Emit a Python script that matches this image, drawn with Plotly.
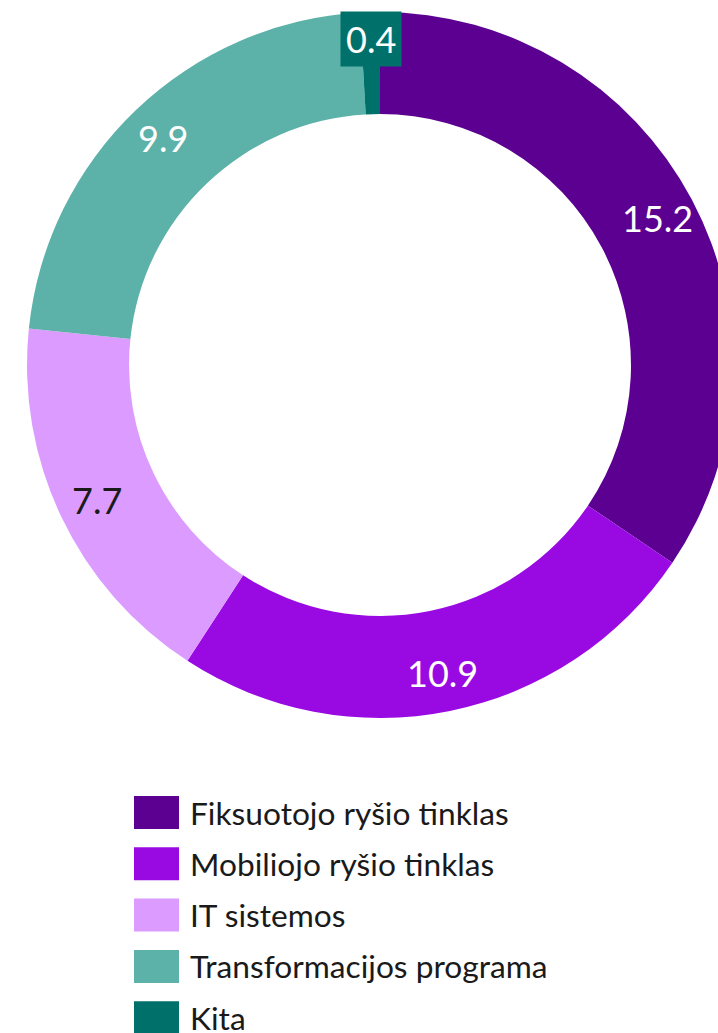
import math
import plotly.graph_objects as go

categories = ["Fiksuotojo ryšio tinklas", "Mobiliojo ryšio tinklas", "IT sistemos",
              "Transformacijos programa", "Kita"]
values = [15.2, 10.9, 7.7, 9.9, 0.4]
colors = ["#5C0091", "#990AE3", "#DC9BFF", "#5CB1A8", "#00716A"]
text_colors = ["#FFFFFF", "#FFFFFF", "#1A1A1A", "#FFFFFF", "#FFFFFF"]

W, H = 760, 1033
CX, CY, R = 380, 365, 353
FONT = "Lato"

fig = go.Figure(go.Pie(
    labels=categories, values=values, sort=False, direction="clockwise", rotation=0,
    hole=0.711, marker=dict(colors=colors, line=dict(width=0)),
    textinfo="none",
    domain=dict(x=[(CX - R) / W, (CX + R) / W], y=[1 - (CY + R) / H, 1 - (CY - R) / H]),
    showlegend=False, hoverinfo="label+value",
))

# value labels at each slice's mid-angle
total = sum(values)
cum = 0.0
for i, v in enumerate(values):
    mid = (cum + v / 2) / total * 2 * math.pi
    cum += v
    small = v / total < 0.02
    rr = 326 if small else 314
    px = CX + rr * math.sin(mid)
    py = CY - rr * math.cos(mid)
    fig.add_annotation(x=px / W, y=1 - py / H, xref="paper", yref="paper",
                       text=f"{v:.1f}", showarrow=False,
                       bgcolor=colors[i] if small else None,
                       borderpad=5 if small else 0,
                       font=dict(family=FONT, size=36, color=text_colors[i]),
                       xanchor="center", yanchor="middle")

# custom legend
leg_x0, leg_y0, step, sw, sh = 134, 796, 51.3, 45, 33
for i, (cat, col) in enumerate(zip(categories, colors)):
    y0 = leg_y0 + i * step
    fig.add_shape(type="rect", xref="paper", yref="paper",
                  x0=leg_x0 / W, x1=(leg_x0 + sw) / W,
                  y0=1 - y0 / H, y1=1 - (y0 + sh) / H,
                  fillcolor=col, line=dict(width=0))
    fig.add_annotation(x=(leg_x0 + sw + 9) / W, y=1 - (y0 + sh / 2) / H,
                       xref="paper", yref="paper", text=cat, showarrow=False,
                       xanchor="left", yanchor="middle",
                       font=dict(family=FONT, size=31.7, color="#1A1A1A"))

fig.update_layout(width=W, height=H, margin=dict(l=0, r=0, t=0, b=0),
                  paper_bgcolor="white", plot_bgcolor="white",
                  font=dict(family=FONT))
fig.write_html("out.html", config={"displayModeBar": False},
               post_script="document.body.style.margin='0';"
                           "document.body.style.overflow='hidden';")
